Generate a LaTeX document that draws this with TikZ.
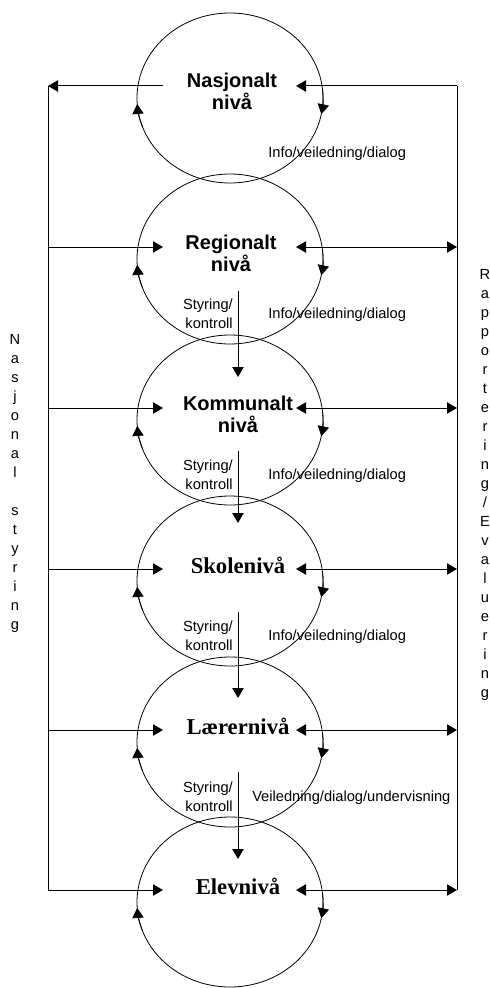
\documentclass[tikz,border=0pt]{standalone}
\usepackage{fontspec}
\setmainfont{Liberation Sans}
\newfontfamily\serifbold{Liberation Serif}
\usetikzlibrary{arrows.meta}

\begin{document}
\begin{tikzpicture}[x=0.75pt,y=0.75pt,
	ring/.style={draw,line width=0.6pt},
	lvl/.style={anchor=base,align=center,inner sep=0,font=\fontsize{15}{16.5}\selectfont\bfseries},
	lvlserif/.style={anchor=base,inner sep=0,font=\fontsize{17}{18}\selectfont\serifbold\bfseries},
	small/.style={inner sep=0,font=\fontsize{11}{14.25}\selectfont},
	tip/.style={-{Triangle[width=8.5pt,length=7.5pt]},line width=0.75pt},
	tips/.style={{Triangle[width=8.5pt,length=7.5pt]}-{Triangle[width=8.5pt,length=7.5pt]},line width=0.75pt}]
\useasboundingbox (0,0) rectangle (489,-988);

% one row per level
\foreach \k/\y in {1/86,2/247,3/408,4/569,5/730,6/890}{
	\coordinate (c\k) at (230,-\y-12);
	\coordinate (l\k) at (48,-\y);
	\coordinate (a\k) at (163,-\y);
	\coordinate (b\k) at (296,-\y);
	\coordinate (r\k) at (457,-\y);
	\draw[ring] (c\k) ellipse [x radius=93,y radius=85];
	\draw[tip,line width=0.6pt] (c\k) ++(200:93 and 85) arc [start angle=200,end angle=184,x radius=93,y radius=85];
	\draw[tip,line width=0.6pt] (c\k) ++(5:93 and 85) arc [start angle=5,end angle=-11,x radius=93,y radius=85];
}

\node[lvl] (n1) at (232,-110) {Nasjonalt\\nivå};
\node[lvl] (n2) at (231,-271) {Regionalt\\nivå};
\node[lvl] (n3) at (238,-432) {Kommunalt\\nivå};
\node[lvlserif] (n4) at (238,-573) {Skolenivå};
\node[lvlserif] (n5) at (238,-734) {Lærernivå};
\node[lvlserif] (n6) at (238,-894) {Elevnivå};

% styring and rapportering
\draw[tip] (a1) -- (l1);
\draw[tip] (r1) -- (b1);
\draw[line width=0.75pt] (l1) -- (l6);
\draw[line width=0.75pt] (r1) -- (r6);
\foreach \k in {2,...,6}{
	\draw[tip] (l\k) -- (a\k);
	\draw[tips] (b\k) -- (r\k);
}

% info down the right side
\foreach \k/\y in {1/86,2/247,3/408,4/569}
	\node[small,anchor=west] (i\k) at (268,-\y-68) {Info/veiledning/dialog};
\node[small,anchor=west] (i5) at (252,-798) {Veiledning/dialog/undervisning};

% styring/kontroll between levels
\foreach \k/\y/\s/\e in {2/247/291/377,3/408/451/523,4/569/612/698,5/730/772/859}{
	\coordinate (s\k) at (238,-\s);
	\coordinate (e\k) at (238,-\e);
	\draw[tip] (s\k) -- (e\k);
	\node[small,anchor=east,align=right] (k\k) at (233,-\y-67) {Styring/\\kontroll};
}

\node[small,align=center] (ns) at (15,-483) {N\\a\\s\\j\\o\\n\\a\\l\\\strut\\s\\t\\y\\r\\i\\n\\g};
\node[small,align=center] (re) at (485,-485) {R\\a\\p\\p\\o\\r\\t\\e\\r\\i\\n\\g\\/\\E\\v\\a\\l\\u\\e\\r\\i\\n\\g};
\end{tikzpicture}
\end{document}
